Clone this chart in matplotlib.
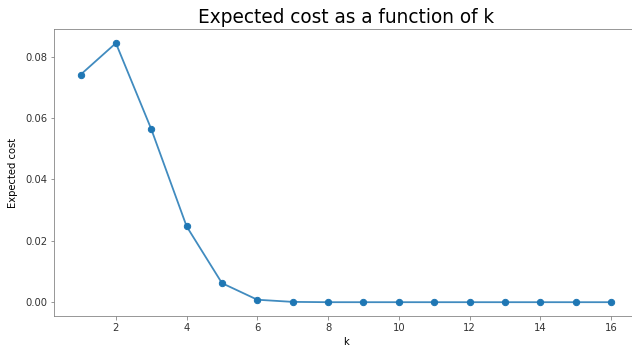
import matplotlib.pyplot as plt
import numpy as np

k = np.arange(1, 17)
expected_cost = [0.0741, 0.0844, 0.0564, 0.0247, 0.0062, 0.0008, 0.0001,
                 0.0, 0.0, 0.0, 0.0, 0.0, 0.0, 0.0, 0.0, 0.0]

fig = plt.figure(figsize=(632 / 72, 347 / 72), dpi=72)
ax = fig.add_axes([54 / 632, 31 / 347, 583.5 / 632, 287 / 347])

ax.plot(k, expected_cost, color='#1f77b4', alpha=0.85, linewidth=1.8)
ax.scatter(k, expected_cost, color='#1f77b4', s=40, zorder=3)

ax.set_title('Expected cost as a function of k', fontsize=18.5)
ax.set_xlabel('k', fontsize=10)
ax.set_ylabel('Expected cost', fontsize=10, labelpad=7)
ax.set_xticks(range(2, 17, 2))
ax.set_yticks([0.0, 0.02, 0.04, 0.06, 0.08])
ax.set_xlim(0.25, 16.75)
ax.set_ylim(-0.0045, 0.0890)

for s in ax.spines.values():
    s.set_color('#808080')
ax.tick_params(colors='#808080', labelcolor='#333333', labelsize=10)

plt.savefig("out.png", dpi=72)
